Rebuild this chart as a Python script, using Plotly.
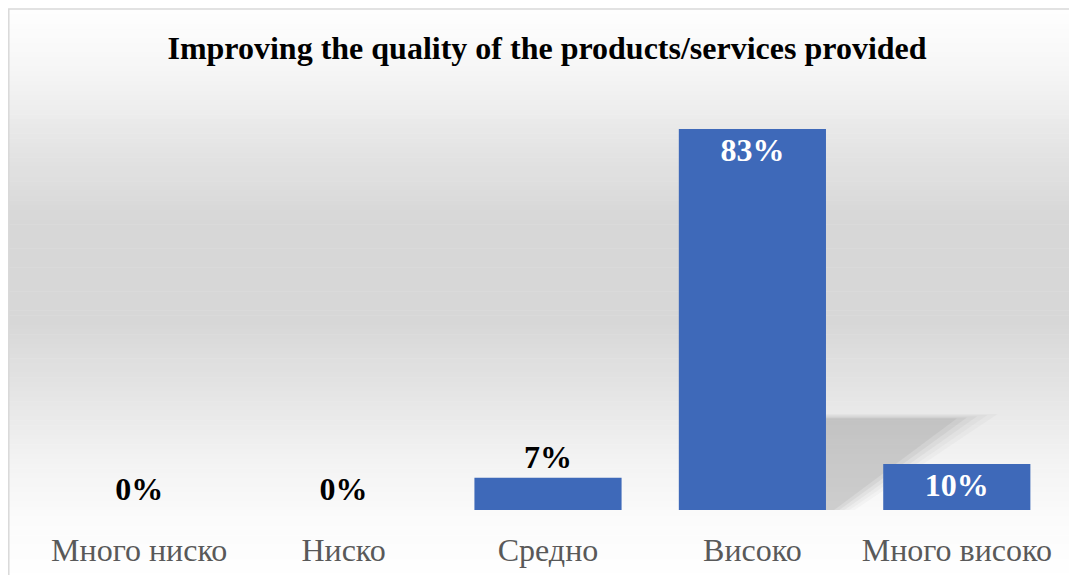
import plotly.graph_objects as go
import numpy as np

categories = ["Много ниско", "Ниско", "Средно", "Високо", "Много високо"]
values = [0, 0, 7, 83, 10]
labels = ["0%", "0%", "7%", "83%", "10%"]

W, H = 1077, 575
OFF = 8  # page offset of the figure inside the browser window
ML, MR, MT, MB = 37 - OFF, W - (1059 - OFF), 51 - OFF, H - (510 - OFF)
YMAX = 100
pw = W - ML - MR
ph = H - MT - MB

def px(xpix):  # reference-window x pixel -> paper coords
    return (xpix - OFF - ML) / pw

def py(ypix):  # reference-window y pixel -> paper coords
    return (H - MB - (ypix - OFF)) / ph

fig = go.Figure()

positions = ["outside" if v < 9 else "inside" for v in values]

fig.add_trace(go.Bar(
    x=categories, y=values, text=labels,
    textposition=positions,
    insidetextanchor="end",
    outsidetextfont=dict(family="Liberation Serif", size=32, color="black"),
    insidetextfont=dict(family="Liberation Serif", size=32, color="white"),
    texttemplate="<b>%{text}</b>",
    marker=dict(color="#3e69b9", line=dict(width=0)),
    width=0.72, cliponaxis=False,
))

shapes = []
# vertical gradient background via strips (reference y pixels)
stops = [(0, 255), (12, 254), (70, 246), (150, 228), (220, 215), (320, 215),
         (400, 230), (460, 243), (520, 251), (583, 255)]
ys = [s[0] for s in stops]; gs = [s[1] for s in stops]
n = 120
for i in range(n):
    y0 = 9 + i * (H + OFF - 9) / n; y1 = 9 + (i + 1) * (H + OFF - 9) / n
    g = int(round(np.interp((y0 + y1) / 2, ys, gs)))
    shapes.append(dict(type="rect", xref="paper", yref="paper", layer="below",
                       x0=px(OFF), x1=px(W + OFF) + 0.01,
                       y0=py(y1 + 0.5), y1=py(y0),
                       fillcolor=f"rgb({g},{g},{g})", line=dict(width=0)))
# frame lines (left and top)
shapes.append(dict(type="path", xref="paper", yref="paper", layer="below",
                   path=f"M {px(OFF+0.8)} {py(H+OFF+5)} L {px(OFF+0.8)} {py(9)} L {px(W+OFF+5)} {py(9)}",
                   line=dict(color="#d9d9d9", width=1.5)))

# soft shadow behind tallest bar
imax = int(np.argmax(values))
v = values[imax]
hw = 0.36
for k, op in enumerate([0.04, 0.05, 0.07, 0.09, 0.10]):
    d = 0.05 * (4 - k)
    shapes.append(dict(type="path", xref="x", yref="y", layer="below",
                       path=(f"M {imax+hw} 0 L {imax+hw} {v*0.24 + d*5} "
                             f"L {imax+hw+0.64+d} {v*0.24 + d*5} L {imax+hw+0.04+d*0.5} 0 Z"),
                       fillcolor=f"rgba(110,110,110,{op})", line=dict(width=0)))

fig.update_layout(
    width=W, height=H,
    margin=dict(l=ML, r=MR, t=MT, b=MB),
    paper_bgcolor="white", plot_bgcolor="rgba(0,0,0,0)",
    title=dict(text="<b>Improving the quality of the products/services provided</b>",
               x=(547 - OFF) / W, xanchor="center", y=1 - (48 - OFF) / H, yanchor="middle",
               font=dict(family="Liberation Serif", size=32, color="black")),
    xaxis=dict(showgrid=False, showline=False, zeroline=False, ticks="",
               tickfont=dict(family="Liberation Serif", size=32, color="#595959"),
               ticklabelstandoff=18),
    yaxis=dict(range=[0, YMAX], visible=False, showgrid=False, zeroline=False),
    showlegend=False, shapes=shapes,
)
fig.update_traces(textangle=0, constraintext="none")

fig.write_html("out.html")
